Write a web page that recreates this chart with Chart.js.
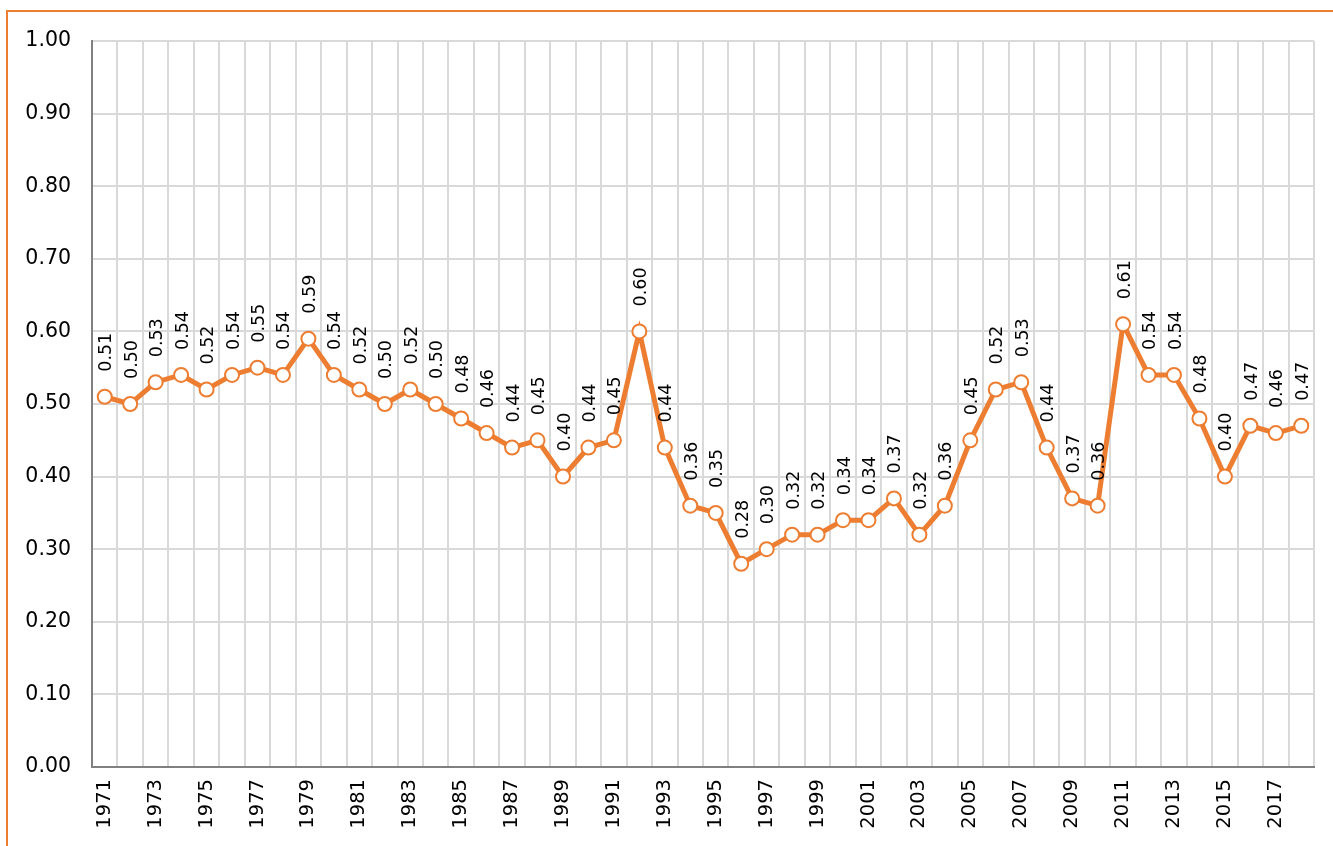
<!DOCTYPE html>
<html>
<head>
<meta charset="utf-8">
<script src="https://cdn.jsdelivr.net/npm/chart.js@4/dist/chart.umd.min.js"></script>
<style>
  html, body { margin: 0; padding: 0; background: #fff; overflow: hidden; }
  #frame {
    position: absolute; left: 6px; top: 10px; width: 1400px; height: 900px;
    border-left: 2px solid #ED7D31; border-top: 2px solid #ED7D31;
  }
  #wrap { position: absolute; left: 0; top: 0; width: 1333px; height: 846px; }
</style>
</head>
<body>
<div id="frame"></div>
<div id="wrap"><canvas id="chart" width="1333" height="846"></canvas></div>
<script>
const years = [];
for (let y = 1971; y <= 2018; y++) years.push(String(y));

const values = [
  0.51, 0.50, 0.53, 0.54, 0.52, 0.54, 0.55, 0.54, 0.59, 0.54,
  0.52, 0.50, 0.52, 0.50, 0.48, 0.46, 0.44, 0.45, 0.40, 0.44,
  0.45, 0.60, 0.44, 0.36, 0.35, 0.28, 0.30, 0.32, 0.32, 0.34,
  0.34, 0.37, 0.32, 0.36, 0.45, 0.52, 0.53, 0.44, 0.37, 0.36,
  0.61, 0.54, 0.54, 0.48, 0.40, 0.47, 0.46, 0.47
];

const yMin = 0;
const yMax = 1;
const yStep = 0.1;

const orange = "#ED7D31";
const fontFamily = "'DejaVu Sans', Verdana, sans-serif";

// rotated value labels above each point
const valueLabels = {
  id: "valueLabels",
  afterDatasetsDraw(chart) {
    const ctx = chart.ctx;
    const meta = chart.getDatasetMeta(0);
    ctx.save();
    ctx.font = "17.5px " + fontFamily;
    ctx.fillStyle = "#000";
    ctx.textAlign = "left";
    ctx.textBaseline = "middle";
    meta.data.forEach((pt, i) => {
      ctx.save();
      ctx.translate(pt.x + 2, pt.y - 25);
      ctx.rotate(-Math.PI / 2);
      ctx.fillText(values[i].toFixed(2), 0, 0);
      ctx.restore();
    });
    ctx.restore();
  }
};

new Chart(document.getElementById("chart"), {
  type: "line",
  data: {
    labels: years,
    datasets: [{
      data: values,
      borderColor: orange,
      borderWidth: 5,
      backgroundColor: "#fff",
      pointBackgroundColor: "#fff",
      pointBorderColor: orange,
      pointBorderWidth: 2,
      pointRadius: 7,
      tension: 0
    }]
  },
  options: {
    responsive: false,
    animation: false,
    layout: { padding: { top: 41, right: 19, left: 0, bottom: 0 } },
    plugins: { legend: { display: false }, tooltip: { enabled: false } },
    scales: {
      x: {
        offset: true,
        grid: { offset: true, color: "#d9d9d9", lineWidth: 2, drawTicks: false },
        border: { color: "#808080", width: 2 },
        ticks: {
          autoSkip: false,
          maxRotation: 90,
          minRotation: 90,
          padding: 12,
          color: "#000",
          font: { family: fontFamily, size: 19.5 },
          callback: (v, i) => (i % 2 === 0 ? years[i] : "")
        },
        afterFit: (s) => {
          s.height = 79;
          s.paddingLeft = 0;
          s.paddingRight = 0;
        }
      },
      y: {
        min: yMin,
        max: yMax,
        grid: { color: "#d9d9d9", lineWidth: 2, drawTicks: false },
        border: { color: "#808080", width: 2 },
        ticks: {
          stepSize: yStep,
          padding: 21,
          color: "#000",
          font: { family: fontFamily, size: 20.5 },
          callback: (v) => Number(v).toFixed(2)
        },
        afterFit: (s) => { s.width = 92; }
      }
    }
  },
  plugins: [valueLabels]
});
</script>
</body>
</html>
